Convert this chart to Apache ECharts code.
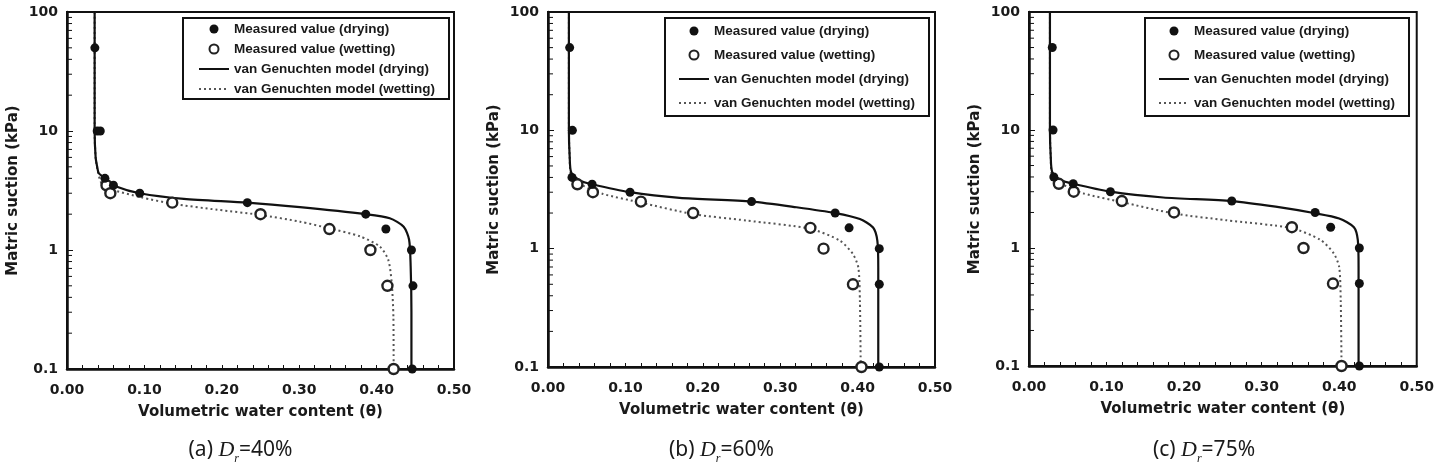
<!DOCTYPE html>
<html>
<head>
<meta charset="utf-8">
<script src="https://cdn.jsdelivr.net/npm/echarts@6/dist/echarts.min.js"></script>
<style>
  html, body { margin: 0; padding: 0; background: #fff; }
  #chart { width: 1437px; height: 465px; }
</style>
</head>
<body>
<div id="chart"></div>
<script>
// 图例名称
var seriesNames = [
  'Measured value (drying)',
  'Measured value (wetting)',
  'van Genuchten model (drying)',
  'van Genuchten model (wetting)'
];
var captions = ['40%', '60%', '75%'];
var panelTags = ['(a)', '(b)', '(c)'];

var xTicks = [0, 0.1, 0.2, 0.3, 0.4, 0.5];
var yTickLabels = { '0.1': '0.1', '1': '1', '10': '10', '100': '100' };
// 对数轴小刻度 (2..9 per decade)
var yMinorTicks = [0.2, 0.3, 0.4, 0.5, 0.6, 0.7, 0.8, 0.9, 2, 3, 4, 5, 6, 7, 8, 9, 20, 30, 40, 50, 60, 70, 80, 90];

// (a) Dr=40%  [theta, suction kPa]
var aDryMeasured = [[0.036, 50], [0.039, 10], [0.043, 10], [0.049, 4], [0.060, 3.5], [0.094, 3], [0.233, 2.5], [0.386, 2], [0.412, 1.5], [0.445, 1], [0.447, 0.5], [0.446, 0.1]];
var aWetMeasured = [[0.051, 3.5], [0.056, 3], [0.136, 2.5], [0.250, 2], [0.339, 1.5], [0.392, 1], [0.414, 0.5], [0.422, 0.1]];
var aDryModel = [[0.0357, 100], [0.0357, 10], [0.037, 6], [0.039, 5], [0.041, 4.43], [0.0516, 3.89], [0.0645, 3.4], [0.094, 3.0], [0.151, 2.69], [0.233, 2.5], [0.301, 2.29], [0.386, 2.0], [0.417, 1.85], [0.435, 1.57], [0.442, 1.22], [0.444, 0.73], [0.445, 0.3], [0.445, 0.1]];
var aWetModel = [[0.0357, 100], [0.0357, 10], [0.037, 6], [0.040, 4.5], [0.045, 3.6], [0.056, 3.25], [0.095, 2.78], [0.136, 2.45], [0.194, 2.18], [0.250, 1.97], [0.301, 1.73], [0.339, 1.52], [0.379, 1.3], [0.404, 1.07], [0.415, 0.83], [0.4195, 0.53], [0.4217, 0.275], [0.422, 0.1]];

// (b) Dr=60%
var bDryMeasured = [[0.028, 50], [0.0315, 10], [0.031, 4], [0.057, 3.5], [0.106, 3], [0.263, 2.5], [0.371, 2], [0.389, 1.5], [0.428, 1], [0.428, 0.5], [0.428, 0.1]];
var bWetMeasured = [[0.038, 3.5], [0.058, 3], [0.120, 2.5], [0.1875, 2], [0.339, 1.5], [0.356, 1], [0.394, 0.5], [0.405, 0.1]];
var bDryModel = [[0.027, 100], [0.027, 10], [0.028, 6], [0.030, 4.4], [0.041, 3.77], [0.057, 3.5], [0.106, 3.0], [0.170, 2.69], [0.263, 2.5], [0.321, 2.24], [0.371, 2.0], [0.403, 1.78], [0.420, 1.51], [0.4255, 1.17], [0.4267, 0.69], [0.4267, 0.1]];
var bWetModel = [[0.027, 100], [0.027, 10], [0.028, 6], [0.030, 4.03], [0.045, 3.42], [0.071, 2.9], [0.120, 2.45], [0.1875, 1.96], [0.256, 1.73], [0.339, 1.47], [0.377, 1.17], [0.394, 0.9], [0.401, 0.69], [0.403, 0.36], [0.404, 0.1]];

// (c) Dr=75%
var cDryMeasured = [[0.030, 50], [0.031, 10], [0.032, 4], [0.057, 3.5], [0.105, 3], [0.2615, 2.5], [0.369, 2], [0.389, 1.5], [0.426, 1], [0.426, 0.5], [0.426, 0.1]];
var cWetMeasured = [[0.0385, 3.5], [0.0577, 3], [0.1197, 2.5], [0.187, 2], [0.339, 1.5], [0.354, 1], [0.392, 0.5], [0.403, 0.1]];
var cDryModel = [[0.027, 100], [0.027, 10], [0.028, 6], [0.030, 4.4], [0.041, 3.77], [0.057, 3.5], [0.105, 3.0], [0.173, 2.68], [0.2615, 2.5], [0.318, 2.24], [0.369, 1.97], [0.400, 1.78], [0.419, 1.5], [0.424, 1.17], [0.425, 0.69], [0.425, 0.1]];
var cWetModel = [[0.027, 100], [0.027, 10], [0.028, 6], [0.030, 4.03], [0.045, 3.42], [0.0705, 2.9], [0.1197, 2.45], [0.187, 1.96], [0.254, 1.72], [0.339, 1.47], [0.376, 1.17], [0.393, 0.9], [0.400, 0.69], [0.402, 0.36], [0.403, 0.1]];

var panels = [
  { dry: aDryMeasured, wet: aWetMeasured, dryModel: aDryModel, wetModel: aWetModel },
  { dry: bDryMeasured, wet: bWetMeasured, dryModel: bDryModel, wetModel: bWetModel },
  { dry: cDryMeasured, wet: cWetMeasured, dryModel: cDryModel, wetModel: cWetModel }
];

// 布局
var grids = [
  { left: 67, top: 12, width: 387, height: 357 },
  { left: 548, top: 12, width: 387, height: 355 },
  { left: 1029, top: 12, width: 390, height: 354 }
];
var legendBoxes = [
  { left: 183, top: 18, gap: 6, pad: [4, 14, 3, 15] },
  { left: 665, top: 18, gap: 10, pad: [6, 14, 6, 13] },
  { left: 1145, top: 18, gap: 10, pad: [6, 14, 6, 13] }
];

var boldFont = 'DejaVu Sans';
var textColor = '#1a1a1a';

function init() {
  var chart = echarts.init(document.getElementById('chart'));
  var option = {
    backgroundColor: '#fff',
    animation: false,
    title: [],
    legend: [],
    grid: [],
    xAxis: [],
    yAxis: [],
    series: []
  };

  panels.forEach(function (p, i) {
    var g = grids[i];
    option.grid.push({
      left: g.left, top: g.top, width: g.width, height: g.height,
      show: true, borderColor: '#111', borderWidth: 2, containLabel: false
    });

    option.xAxis.push({
      gridIndex: i,
      type: 'value',
      min: xTicks[0],
      max: xTicks[xTicks.length - 1],
      interval: 0.1,
      name: 'Volumetric water content (θ)',
      nameLocation: 'middle',
      nameGap: 36,
      nameTextStyle: { fontFamily: boldFont, fontWeight: 'bold', fontSize: 15, color: textColor },
      axisLine: { show: true, lineStyle: { color: '#111', width: 2.5 } },
      axisTick: { show: true, inside: true, length: 4, lineStyle: { color: '#111', width: 1 } },
      minorTick: { show: true, splitNumber: 5, length: 4, lineStyle: { color: '#111', width: 1 } },
      axisLabel: {
        margin: 14,
        fontFamily: boldFont, fontWeight: 'bold', fontSize: 14, color: textColor,
        formatter: function (v) { return v.toFixed(2); }
      },
      splitLine: { show: false }
    });

    option.yAxis.push({
      gridIndex: i,
      type: 'log',
      logBase: 10,
      min: 0.1,
      max: 100,
      name: 'Matric suction (kPa)',
      nameLocation: 'middle',
      nameRotate: 90,
      nameGap: 46,
      nameTextStyle: { fontFamily: boldFont, fontWeight: 'bold', fontSize: 15, color: textColor },
      axisLine: { show: true, lineStyle: { color: '#111', width: 2.5 } },
      axisTick: { show: true, inside: true, length: 6, lineStyle: { color: '#111', width: 1 } },
      axisLabel: {
        margin: 9,
        fontFamily: boldFont, fontWeight: 'bold', fontSize: 14, color: textColor,
        formatter: function (v) {
          var k = String(+v.toPrecision(3));
          return yTickLabels[k] || '';
        }
      },
      splitLine: { show: false }
    });

    // 数据
    option.series.push({
      name: seriesNames[2], type: 'line', xAxisIndex: i, yAxisIndex: i,
      data: p.dryModel, symbol: 'none', smooth: 0.25,
      lineStyle: { color: '#111', width: 2.2, type: 'solid' },
      itemStyle: { color: '#111' }, z: 3
    });
    option.series.push({
      name: seriesNames[3], type: 'line', xAxisIndex: i, yAxisIndex: i,
      data: p.wetModel, symbol: 'none', smooth: 0.25,
      lineStyle: { color: '#555', width: 2, type: [2, 3] },
      itemStyle: { color: '#555' }, z: 2
    });
    option.series.push({
      name: seriesNames[0], type: 'scatter', xAxisIndex: i, yAxisIndex: i,
      data: p.dry, symbol: 'circle', symbolSize: 9,
      itemStyle: { color: '#111', opacity: 1 }, z: 5
    });
    option.series.push({
      name: seriesNames[1], type: 'scatter', xAxisIndex: i, yAxisIndex: i,
      data: p.wet, symbol: 'circle', symbolSize: 10,
      itemStyle: { color: '#fff', borderColor: '#222', borderWidth: 2.4, opacity: 1 }, z: 4
    });
    // y 轴小刻度
    option.series.push({
      type: 'custom', xAxisIndex: i, yAxisIndex: i, silent: true, z: 10,
      data: yMinorTicks.map(function (v) { return [xTicks[0], v]; }),
      renderItem: function (params, api) {
        var pt = api.coord([api.value(0), api.value(1)]);
        return {
          type: 'line',
          shape: { x1: pt[0], y1: pt[1], x2: pt[0] + 5, y2: pt[1] },
          style: { stroke: '#111', lineWidth: 1 }
        };
      }
    });

    var lb = legendBoxes[i];
    option.legend.push({
      orient: 'vertical',
      left: lb.left,
      top: lb.top,
      padding: lb.pad,
      itemGap: lb.gap,
      itemWidth: 30,
      itemHeight: 9,
      selectedMode: false,
      borderColor: '#111',
      borderWidth: 2,
      backgroundColor: '#fff',
      data: [
        { name: seriesNames[0] },
        { name: seriesNames[1] },
        { name: seriesNames[2], itemStyle: { opacity: 0 } },
        { name: seriesNames[3], itemStyle: { opacity: 0 } }
      ],
      textStyle: { fontFamily: 'Liberation Sans', fontWeight: 'bold', fontSize: 13.5, color: textColor, lineHeight: 14 }
    });

    option.title.push({
      text: '{n|' + panelTags[i] + ' }{d|D}{s|r}{n|=' + captions[i] + '}',
      left: g.left + g.width / 2 - 25,
      top: 430,
      textAlign: 'center',
      textStyle: {
        rich: {
          n: { fontFamily: 'Noto Sans', fontWeight: 'normal', fontSize: 21, color: textColor },
          d: { fontFamily: 'Liberation Serif', fontWeight: 'normal', fontStyle: 'italic', fontSize: 22, color: textColor },
          s: { fontFamily: 'Liberation Serif', fontWeight: 'normal', fontStyle: 'italic', fontSize: 12, color: textColor, verticalAlign: 'bottom', lineHeight: 30 }
        }
      }
    });
  });

  chart.setOption(option);
}

init();
</script>
</body>
</html>
